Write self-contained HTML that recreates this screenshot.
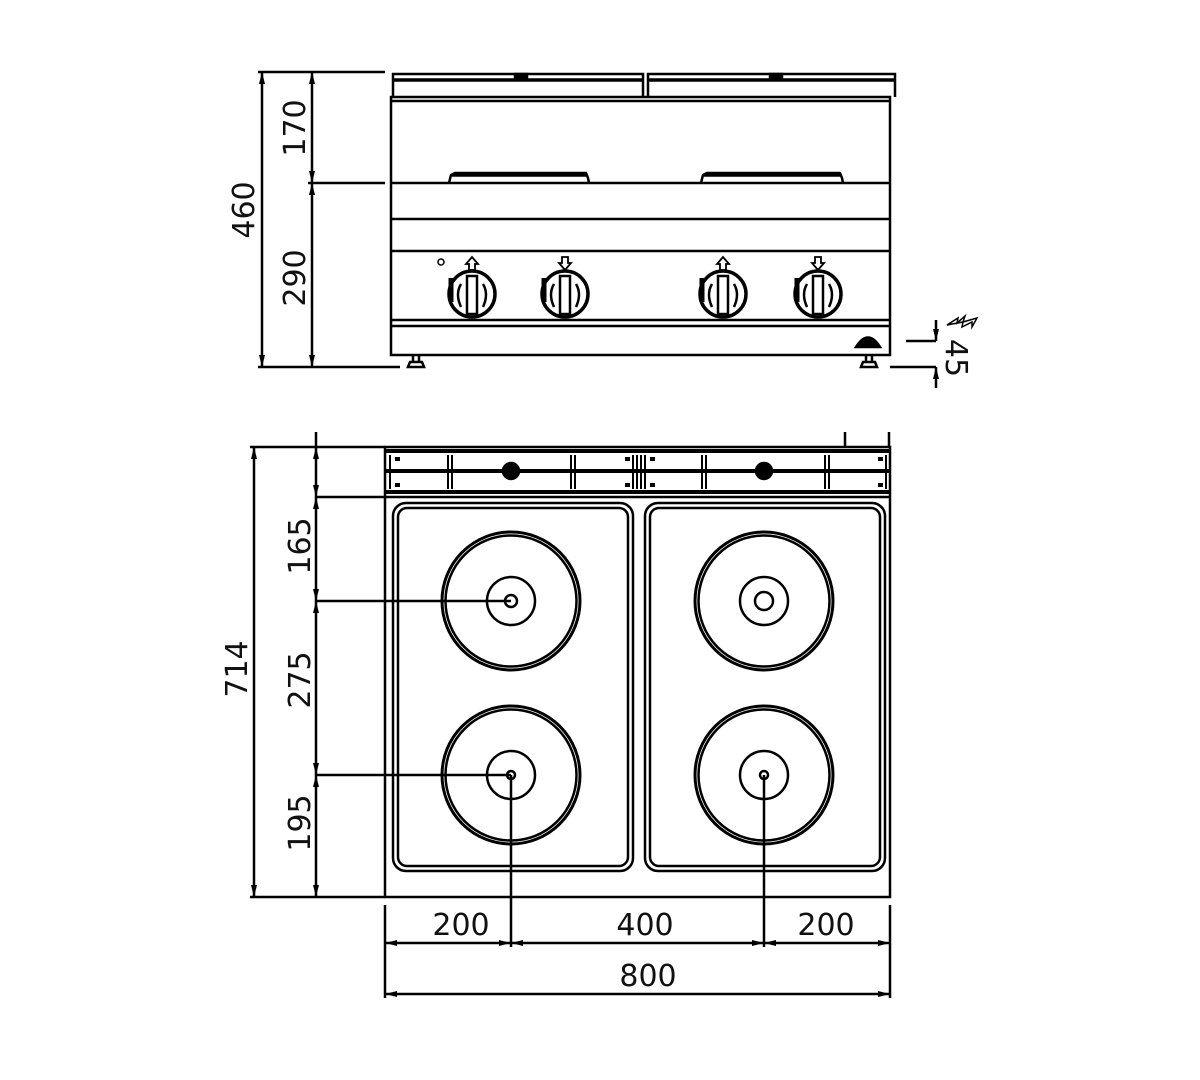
<!DOCTYPE html>
<html><head><meta charset="utf-8"><style>
html,body{margin:0;padding:0;background:#fff;}
svg{display:block;}
text{font-family:"DejaVu Sans","Liberation Sans",sans-serif;font-size:30px;fill:#111;}
</style></head><body>
<svg width="1200" height="1080" viewBox="0 0 1200 1080" xmlns="http://www.w3.org/2000/svg">
<defs>
<marker id="a" viewBox="0 0 12 6" refX="12" refY="3" markerWidth="12" markerHeight="6" markerUnits="userSpaceOnUse" orient="auto-start-reverse"><path d="M0,0 L12,3 L0,6 Z" fill="#000"/></marker>
<g id="kn">
<circle cx="472" cy="294" r="23" stroke-width="3.5"/>
<path d="M451,278 L451,302" stroke-width="5"/>
<rect x="467" y="276" width="10" height="38" stroke-width="2.5"/>
<path d="M461,284 Q455,294 461,307 M483,284 Q489,294 483,307" stroke-width="2.5"/>
</g>
</defs>
<g stroke="#000" fill="none" stroke-width="2.5">
<!-- FRONT VIEW -->
<path d="M393,97 L393,74 L643,74 L643,97"/>
<path d="M393,80 L643,80" stroke-width="3.5"/>
<path d="M648,97 L648,74 L895,74 L895,97"/>
<path d="M648,80 L895,80" stroke-width="3.5"/>
<rect x="515" y="74" width="12" height="4" fill="#000"/>
<rect x="770" y="74" width="12" height="4" fill="#000"/>
<rect x="391" y="97" width="499" height="258"/>
<line x1="391" y1="101" x2="890" y2="101"/>
<line x1="391" y1="183" x2="890" y2="183"/>
<line x1="391" y1="219" x2="890" y2="219"/>
<line x1="391" y1="251" x2="890" y2="251"/>
<line x1="391" y1="320" x2="890" y2="320"/>
<line x1="391" y1="326" x2="890" y2="326"/>
<path d="M449,183 L451,175 L455,173 L586,173 L588,178 L589,183"/>
<path d="M452,175 L586,175" stroke-width="3.5"/>
<path d="M701,183 L703,175 L707,173 L840,173 L842,178 L843,183"/>
<path d="M704,175 L840,175" stroke-width="3.5"/>
<path d="M413,356 L413,362 M419,356 L419,362 M408,367 L410,362 L422,362 L424,367 Z"/>
<path d="M866,356 L866,362 M872,356 L872,362 M861,367 L863,362 L875,362 L877,367 Z"/>
<path d="M856,347 Q868,328 880,347 Z" fill="#000"/>
<circle cx="441" cy="262" r="3" stroke-width="1.5"/>
<use href="#kn"/>
<use href="#kn" x="93"/>
<use href="#kn" x="251"/>
<use href="#kn" x="346"/>
<g stroke-width="1.8">
<path d="M469,270 L469,264 L466,264 L472,257 L478,264 L475,264 L475,270 Z"/>
<path d="M562,257 L562,263 L559,263 L565,270 L571,263 L568,263 L568,257 Z"/>
<path d="M720,270 L720,264 L717,264 L723,257 L729,264 L726,264 L726,270 Z"/>
<path d="M815,257 L815,263 L812,263 L818,270 L824,263 L821,263 L821,257 Z"/>
</g>
<line x1="258" y1="72" x2="385" y2="72"/>
<line x1="308" y1="183" x2="385" y2="183"/>
<line x1="258" y1="367" x2="400" y2="367"/>
<line x1="262" y1="72" x2="262" y2="367" marker-start="url(#a)" marker-end="url(#a)"/>
<line x1="312" y1="72" x2="312" y2="183" marker-start="url(#a)" marker-end="url(#a)"/>
<line x1="312" y1="183" x2="312" y2="367" marker-start="url(#a)" marker-end="url(#a)"/>
<line x1="906" y1="341" x2="936" y2="341"/>
<line x1="890" y1="367" x2="936" y2="367"/>
<line x1="936" y1="320" x2="936" y2="341" marker-end="url(#a)"/>
<line x1="936" y1="388" x2="936" y2="367" marker-end="url(#a)"/>
<path d="M947,325 L958,318 L957,323 L965,316 L963,322 L977,318 L972,327 L972,322 L962,327 L963,322 Z" stroke-width="1.5"/>

<!-- TOP VIEW -->
<rect x="385" y="447" width="505" height="450"/>
<line x1="385" y1="451" x2="890" y2="451" stroke-width="4"/>
<line x1="385" y1="492" x2="890" y2="492" stroke-width="4"/>
<line x1="385" y1="497" x2="890" y2="497"/>
<line x1="385" y1="471" x2="890" y2="471" stroke-width="4"/>
<g stroke-width="2">
<path d="M390,455 L390,489 M448,455 L448,489 M452,455 L452,489 M571,455 L571,489 M575,455 L575,489 M633,455 L633,489 M637,455 L637,489 M641,455 L641,489 M645,455 L645,489 M702,455 L702,489 M706,455 L706,489 M825,455 L825,489 M829,455 L829,489 M886,455 L886,489"/>
<path d="M395,459 L400,459 M625,459 L630,459 M650,459 L655,459 M878,459 L883,459 M395,485 L400,485 M625,485 L630,485 M650,485 L655,485 M878,485 L883,485" stroke-width="4"/>
</g>
<circle cx="511" cy="471" r="8" fill="#000"/>
<circle cx="764" cy="471" r="8" fill="#000"/>
<line x1="845" y1="432" x2="845" y2="447"/>
<line x1="889" y1="432" x2="889" y2="447"/>
<rect x="393" y="503" width="240" height="368" rx="13"/>
<rect x="398" y="508" width="230" height="358" rx="9"/>
<rect x="645" y="503" width="240" height="368" rx="13"/>
<rect x="650" y="508" width="230" height="358" rx="9"/>
<circle cx="511" cy="601" r="69" stroke-width="3"/><circle cx="511" cy="601" r="65.5"/>
<circle cx="511" cy="601" r="24"/><circle cx="511" cy="601" r="6"/>
<circle cx="764" cy="601" r="69" stroke-width="3"/><circle cx="764" cy="601" r="65.5"/>
<circle cx="764" cy="601" r="24"/><circle cx="764" cy="601" r="9"/>
<circle cx="511" cy="775" r="69" stroke-width="3"/><circle cx="511" cy="775" r="65.5"/>
<circle cx="511" cy="775" r="24"/><circle cx="511" cy="775" r="4"/>
<circle cx="764" cy="775" r="69" stroke-width="3"/><circle cx="764" cy="775" r="65.5"/>
<circle cx="764" cy="775" r="24"/><circle cx="764" cy="775" r="4"/>
<line x1="250" y1="447" x2="385" y2="447"/>
<line x1="316" y1="497" x2="385" y2="497"/>
<line x1="316" y1="601" x2="511" y2="601"/>
<line x1="316" y1="775" x2="511" y2="775"/>
<line x1="250" y1="897" x2="385" y2="897"/>
<line x1="254" y1="447" x2="254" y2="897" marker-start="url(#a)" marker-end="url(#a)"/>
<line x1="316" y1="432" x2="316" y2="447"/>
<line x1="316" y1="447" x2="316" y2="497" marker-start="url(#a)" marker-end="url(#a)"/>
<line x1="316" y1="497" x2="316" y2="601" marker-start="url(#a)" marker-end="url(#a)"/>
<line x1="316" y1="601" x2="316" y2="775" marker-start="url(#a)" marker-end="url(#a)"/>
<line x1="316" y1="775" x2="316" y2="897" marker-start="url(#a)" marker-end="url(#a)"/>
<line x1="511" y1="775" x2="511" y2="947"/>
<line x1="764" y1="775" x2="764" y2="947"/>
<line x1="385" y1="905" x2="385" y2="998"/>
<line x1="890" y1="905" x2="890" y2="998"/>
<line x1="385" y1="943" x2="511" y2="943" marker-start="url(#a)" marker-end="url(#a)"/>
<line x1="511" y1="943" x2="764" y2="943" marker-start="url(#a)" marker-end="url(#a)"/>
<line x1="764" y1="943" x2="890" y2="943" marker-start="url(#a)" marker-end="url(#a)"/>
<line x1="385" y1="994" x2="890" y2="994" marker-start="url(#a)" marker-end="url(#a)"/>
</g>
<g>
<text transform="translate(254,210) rotate(-90)" text-anchor="middle">460</text>
<text transform="translate(305,128) rotate(-90)" text-anchor="middle">170</text>
<text transform="translate(305,278) rotate(-90)" text-anchor="middle">290</text>
<text transform="translate(946,358) rotate(90)" text-anchor="middle">45</text>
<text transform="translate(247,669) rotate(-90)" text-anchor="middle">714</text>
<text transform="translate(310,546) rotate(-90)" text-anchor="middle">165</text>
<text transform="translate(310,680) rotate(-90)" text-anchor="middle">275</text>
<text transform="translate(310,823) rotate(-90)" text-anchor="middle">195</text>
<text x="461" y="935" text-anchor="middle">200</text>
<text x="645" y="935" text-anchor="middle">400</text>
<text x="826" y="935" text-anchor="middle">200</text>
<text x="648" y="986" text-anchor="middle">800</text>
</g>
</svg>
</body></html>
